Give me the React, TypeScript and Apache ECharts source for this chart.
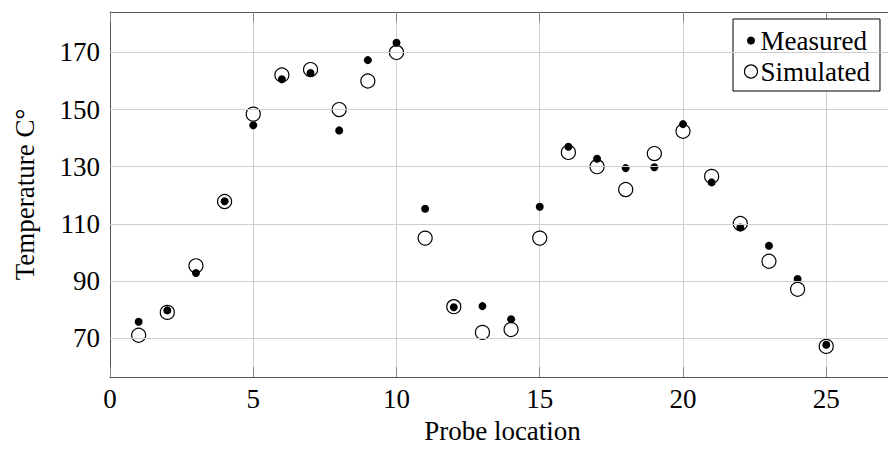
import React, { useEffect, useRef } from "react";
import * as echarts from "echarts";

const probe = [1, 2, 3, 4, 5, 6, 7, 8, 9, 10, 11, 12, 13, 14, 15, 16, 17, 18, 19, 20, 21, 22, 23, 24, 25];
const measured = [75.7, 79.7, 92.8, 117.9, 144.5, 160.6, 162.8, 142.7, 167.3, 173.4, 115.3, 80.8, 81.2, 76.6, 116, 137, 132.8, 129.5, 129.8, 144.9, 124.5, 108.7, 102.3, 90.7, 67.7];
const simulated = [71, 79, 95.3, 117.8, 148.4, 162.1, 164, 150, 160, 170, 105, 81, 72, 73, 105, 135, 130, 122, 134.6, 142.4, 126.6, 110.1, 96.9, 87.1, 67.1];
const yTicks = [70, 90, 110, 130, 150, 170];
const xTickStep = 5;
const xRange = [0, 27.4];
const yRange = [56.35, 184.15];

const FONT = "'Liberation Serif', 'DejaVu Serif', serif";
const FS = 27;

export default function App() {
  const ref = useRef<HTMLDivElement>(null);
  useEffect(() => {
    const chart = echarts.init(ref.current!, null, { renderer: "svg" });
    const tickStyle = { color: "#8a8a8a", width: 1 };
    const lineStyle = { color: "#555", width: 1 };
    chart.setOption({
      animation: false,
      textStyle: { fontFamily: FONT },
      grid: { left: 110, top: 12, width: 785, height: 371 },
      legend: {
        left: 733,
        top: 19,
        orient: "vertical",
        backgroundColor: "#fff",
        borderColor: "#000",
        borderWidth: 1,
        borderRadius: 0,
        padding: [8, 10, 6, 9],
        itemGap: 4,
        itemWidth: 13,
        itemHeight: 13,
        textStyle: { fontFamily: FONT, fontSize: FS, color: "#000", padding: [0, 0, 0, -2] },
        data: [
          { name: "Measured", icon: "circle", itemStyle: { color: "#000", borderColor: "#fff", borderWidth: 5 } },
          { name: "Simulated", icon: "circle", itemStyle: { color: "#fff", borderColor: "#000", borderWidth: 1.2 } },
        ],
      },
      xAxis: [
        {
          type: "value",
          min: xRange[0],
          max: xRange[1],
          interval: xTickStep,
          name: "Probe location",
          nameLocation: "middle",
          nameGap: 35,
          nameTextStyle: { fontFamily: FONT, fontSize: FS, color: "#000" },
          axisLine: { show: true, onZero: false, lineStyle },
          axisTick: { show: true, inside: true, length: 10, lineStyle: tickStyle },
          axisLabel: {
            fontFamily: FONT,
            fontSize: FS,
            color: "#000",
            margin: 8,
            showMaxLabel: false,
            formatter: (v: number) => (v % xTickStep === 0 ? String(v) : ""),
          },
          splitLine: { show: true, lineStyle: { color: "#cfcfcf", width: 1 } },
        },
        {
          type: "value",
          position: "top",
          min: xRange[0],
          max: xRange[1],
          interval: xTickStep,
          axisLine: { show: true, onZero: false, lineStyle },
          axisTick: { show: true, inside: true, length: 10, lineStyle: tickStyle },
          axisLabel: { show: false },
          splitLine: { show: false },
        },
      ],
      yAxis: [
        {
          type: "value",
          min: yRange[0],
          max: yRange[1],
          name: "Temperature C°",
          nameLocation: "middle",
          nameGap: 72,
          nameRotate: 90,
          nameTextStyle: { fontFamily: FONT, fontSize: FS, color: "#000" },
          axisLine: { show: true, onZero: false, lineStyle },
          axisTick: { show: true, inside: true, length: 10, lineStyle: tickStyle, customValues: yTicks },
          axisLabel: { fontFamily: FONT, fontSize: FS, color: "#000", margin: 10, customValues: yTicks },
          splitLine: { show: false },
        },
        {
          type: "value",
          position: "right",
          min: yRange[0],
          max: yRange[1],
          axisLine: { show: true, onZero: false, lineStyle },
          axisTick: { show: true, inside: true, length: 10, lineStyle: tickStyle, customValues: yTicks },
          axisLabel: { show: false, customValues: yTicks },
          splitLine: { show: false },
        },
      ],
      series: [
        {
          name: "grid",
          type: "scatter",
          data: [],
          z: 1,
          silent: true,
          markLine: {
            silent: true,
            symbol: "none",
            animation: false,
            label: { show: false },
            lineStyle: { color: "#cfcfcf", width: 1, type: "solid" },
            emphasis: { disabled: true },
            data: yTicks.map((v) => ({ yAxis: v })),
          },
        },
        {
          name: "Simulated",
          type: "scatter",
          z: 3,
          symbol: "circle",
          symbolSize: 14,
          itemStyle: { color: "#fff", borderColor: "#000", borderWidth: 1.2, opacity: 1 },
          data: probe.map((p, i) => [p, simulated[i]]),
        },
        {
          name: "Measured",
          type: "scatter",
          z: 4,
          symbol: "circle",
          symbolSize: 8,
          itemStyle: { color: "#000", opacity: 1 },
          data: probe.map((p, i) => [p, measured[i]]),
        },
      ],
    });
    return () => chart.dispose();
  }, []);
  return (
    <div
      style={{ position: "absolute", left: 0, top: 0, width: 888, height: 449, overflow: "hidden", background: "#fff" }}
    >
      <div ref={ref} style={{ width: 900, height: 449 }} />
    </div>
  );
}
